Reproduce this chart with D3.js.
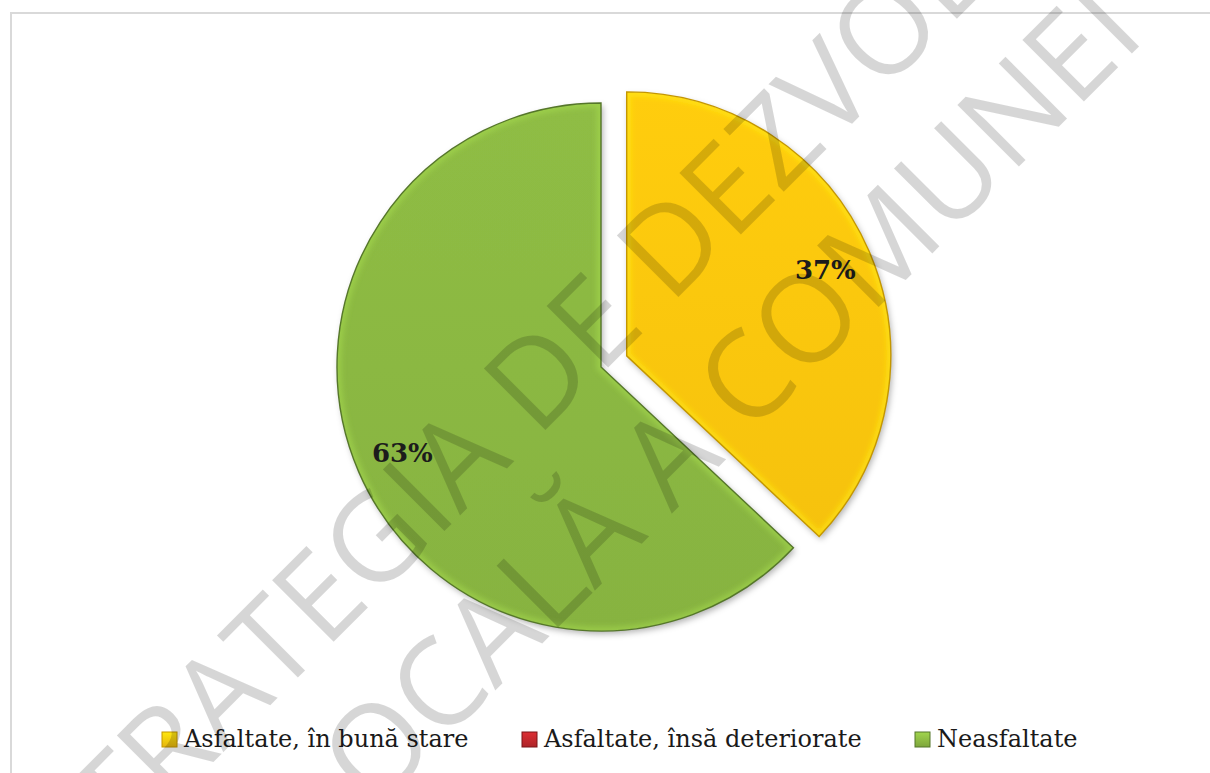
<!DOCTYPE html>
<html>
<head>
<meta charset="utf-8">
<script src="https://cdn.jsdelivr.net/npm/d3@7"></script>
<style>
  html, body { margin: 0; padding: 0; background: #ffffff; }
  svg { display: block; }
</style>
</head>
<body>
<svg id="chart" width="1210" height="773"></svg>
<script>
// Road network by surface condition (share of total length, %)
const categories = ["Asfaltate, în bună stare", "Asfaltate, însă deteriorate", "Neasfaltate"];
const shares = [37, 0, 63];
const seriesColors = ["#FFC90E", "#C0282D", "#8CB943"];
const edgeColors = ["#C49600", "#7A1418", "#55762A"];
const watermarkLines = ["STRATEGIA DE DEZVOLTARE", "LOCALĂ A COMUNEI"];

const W = 1210, H = 773;
const svg = d3.select("#chart");
const defs = svg.append("defs");

// chart frame
svg.append("path")
  .attr("d", `M11,${H} V13 H${W}`)
  .attr("fill", "none")
  .attr("stroke", "#d9d9d9")
  .attr("stroke-width", 2);

// soft drop shadow under the slices
const shadow = defs.append("filter").attr("id", "shadow")
  .attr("x", "-20%").attr("y", "-20%").attr("width", "140%").attr("height", "140%");
shadow.append("feDropShadow")
  .attr("dx", 2).attr("dy", 3).attr("stdDeviation", 3)
  .attr("flood-color", "#000").attr("flood-opacity", 0.3);

const glow = defs.append("filter").attr("id", "bevelBlur");
glow.append("feGaussianBlur").attr("stdDeviation", 2.5);

seriesColors.forEach((c, i) => {
  const g = defs.append("linearGradient").attr("id", "fill" + i)
    .attr("x1", 0).attr("y1", 0).attr("x2", 0).attr("y2", 1);
  g.append("stop").attr("offset", "0%").attr("stop-color", d3.color(c).brighter(0.06));
  g.append("stop").attr("offset", "100%").attr("stop-color", d3.color(c).darker(0.1));
});

// pie geometry
const cx = 601, cy = 367, R = 264, explode = 28;
const pie = d3.pie().sort(null).value(d => d.value);
const slices = pie(categories.map((name, i) => ({ name, value: shares[i], i })));
const arc = d3.arc().innerRadius(0).outerRadius(R);
const labelArc = d3.arc().innerRadius(R * 0.82).outerRadius(R * 0.82);

const pieG = svg.append("g").attr("transform", `translate(${cx},${cy})`);

const sliceG = pieG.selectAll("g.slice")
  .data(slices.filter(d => d.value > 0))
  .join("g")
  .attr("class", "slice")
  .attr("transform", d => {
    if (d.data.i !== 0) return null;
    const mid = (d.startAngle + d.endAngle) / 2;
    return `translate(${Math.sin(mid) * explode},${-Math.cos(mid) * explode})`;
  });

sliceG.each(function (d) {
  const g = d3.select(this);
  const i = d.data.i;
  const clipId = "clip" + i;
  defs.append("clipPath").attr("id", clipId).append("path").attr("d", arc(d));
  g.append("path")
    .attr("d", arc(d))
    .attr("fill", `url(#fill${i})`)
    .attr("filter", "url(#shadow)");
  // inner bevel highlight along the edges
  g.append("path")
    .attr("d", arc(d))
    .attr("fill", "none")
    .attr("stroke", d3.color(seriesColors[i]).brighter(0.5))
    .attr("stroke-width", 9)
    .attr("stroke-opacity", 0.5)
    .attr("clip-path", `url(#${clipId})`)
    .attr("filter", "url(#bevelBlur)");
  g.append("path")
    .attr("d", arc(d))
    .attr("fill", "none")
    .attr("stroke", edgeColors[i])
    .attr("stroke-width", 1.4);
  const [lx, ly] = labelArc.centroid(d);
  g.append("text")
    .attr("x", lx).attr("y", ly)
    .attr("text-anchor", "middle")
    .attr("dominant-baseline", "central")
    .attr("font-family", "'DejaVu Serif', serif")
    .attr("font-weight", "bold")
    .attr("font-size", 26)
    .attr("fill", "#1c1c1c")
    .text(d.data.value + "%");
});

// legend
const legendX = [162, 522, 915];
const legendY = 739;
const legend = svg.append("g");
categories.forEach((name, i) => {
  const gid = "leg" + i;
  const lg = defs.append("linearGradient").attr("id", gid)
    .attr("x1", 0).attr("y1", 0).attr("x2", 0).attr("y2", 1);
  lg.append("stop").attr("offset", "0%").attr("stop-color", d3.color(seriesColors[i]).brighter(0.4));
  lg.append("stop").attr("offset", "100%").attr("stop-color", d3.color(seriesColors[i]).darker(0.3));
  legend.append("rect")
    .attr("x", legendX[i]).attr("y", legendY - 7)
    .attr("width", 15).attr("height", 15)
    .attr("fill", `url(#${gid})`)
    .attr("stroke", edgeColors[i])
    .attr("stroke-width", 1);
  legend.append("text")
    .attr("x", legendX[i] + 22).attr("y", legendY)
    .attr("dominant-baseline", "central")
    .attr("font-family", "'DejaVu Serif', serif")
    .attr("font-size", 24)
    .attr("fill", "#1a1a1a")
    .text(name);
});

// document watermark: every line is turned by the watermark angle and
// shifted so that two of its letters land on their page positions
const wmAngle = -45, wmSize = 122;
const wmAnchors = [
  [{ index: 7, x: 421, y: 505 }, { index: 14, x: 722, y: 180 }],   // "I" of STRATEGIA, "E" of DEZ...
  [{ index: 5, x: 580, y: 528 }, { index: 14, x: 1080, y: 60 }]    // "Ă" of LOCALĂ, "E" of COMUNEI
];
const wm = svg.append("g")
  .attr("font-family", "'Open Sans', sans-serif")
  .attr("font-size", wmSize)
  .attr("fill", "#000")
  .attr("fill-opacity", 0.16);
const rad = wmAngle * Math.PI / 180, ca = Math.cos(rad), sa = Math.sin(rad);
watermarkLines.forEach((line, li) => {
  const outer = wm.append("g");
  const node = outer.append("text").attr("x", 0).attr("y", 0).text(line).node();
  const capMid = -0.357 * wmSize;
  let tx = 0, ty = 0;
  wmAnchors[li].forEach(a => {
    const e = node.getExtentOfChar(a.index);
    const lx = e.x + e.width / 2;
    tx += a.x - (lx * ca - capMid * sa);
    ty += a.y - (lx * sa + capMid * ca);
  });
  tx /= wmAnchors[li].length;
  ty /= wmAnchors[li].length;
  outer.attr("transform", `translate(${tx},${ty}) rotate(${wmAngle})`);
});
</script>
</body>
</html>
